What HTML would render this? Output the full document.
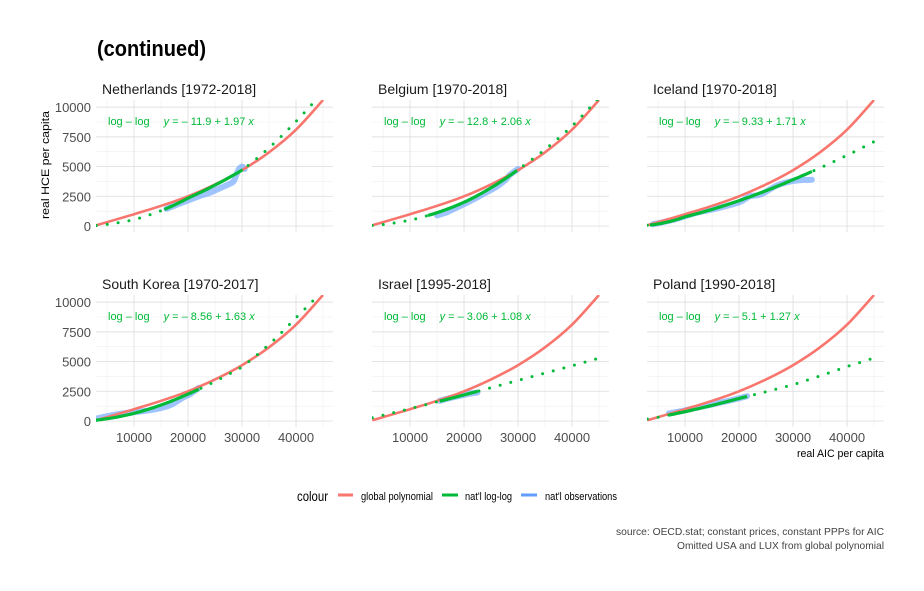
<!DOCTYPE html>
<html><head><meta charset="utf-8">
<style>
body{margin:0;background:#fff;}
svg{display:block;font-family:"Liberation Sans Narrow","Liberation Sans",sans-serif;}
</style></head>
<body>
<svg id="chart" width="924" height="591" viewBox="0 0 924 591" xmlns="http://www.w3.org/2000/svg">
<text x="97" y="56" font-size="22" font-weight="bold" fill="#000" textLength="109" lengthAdjust="spacingAndGlyphs">(continued)</text>
<g id="panels"></g>
<text transform="translate(49,165) rotate(-90)" text-anchor="middle" font-size="11" fill="#000" textLength="108" lengthAdjust="spacingAndGlyphs">real HCE per capita</text>
<text x="884" y="457" text-anchor="end" font-size="11" fill="#000" textLength="87" lengthAdjust="spacingAndGlyphs">real AIC per capita</text>
<g>
<text x="297" y="501" font-size="14" fill="#000" textLength="31" lengthAdjust="spacingAndGlyphs">colour</text>
<line x1="338" y1="495" x2="353" y2="495" stroke="#F8766D" stroke-width="3"/>
<text x="361" y="500" font-size="11" fill="#000" textLength="72" lengthAdjust="spacingAndGlyphs">global polynomial</text>
<line x1="442" y1="495" x2="458" y2="495" stroke="#00BA38" stroke-width="3"/>
<text x="465" y="500" font-size="11" fill="#000" textLength="47" lengthAdjust="spacingAndGlyphs">nat'l log-log</text>
<line x1="521" y1="495" x2="537" y2="495" stroke="#619CFF" stroke-width="3"/>
<text x="545" y="500" font-size="11" fill="#000" textLength="72" lengthAdjust="spacingAndGlyphs">nat'l observations</text>
</g>
<text x="884" y="535" text-anchor="end" font-size="10.5" fill="#444" textLength="268" lengthAdjust="spacingAndGlyphs">source: OECD.stat; constant prices, constant PPPs for AIC</text>
<text x="884" y="549" text-anchor="end" font-size="10.5" fill="#444" textLength="207" lengthAdjust="spacingAndGlyphs">Omitted USA and LUX from global polynomial</text>
</svg>
<script>
const countries = ["Netherlands [1972-2018]","Belgium [1970-2018]","Iceland [1970-2018]","South Korea [1970-2017]","Israel [1995-2018]","Poland [1990-2018]"];
const intercepts = [-11.9,-12.8,-9.33,-8.56,-3.06,-5.1];
const slopes = [1.97,2.06,1.71,1.63,1.08,1.27];
const loglogX = [3000,10000,20000,30000,40000,45000];
const loglogNL = [50,550,2350,4700,8800,11300];
const loglogBE = [50,500,2000,4750,8400,10800];
const loglogIS = [60,780,2130,3900,5950,7100];
const loglogKR = [80,650,2270,4550,8700,11000];
const loglogIL = [285,1040,2200,3420,4650,5290];
const loglogPL = [170,790,1900,3050,4580,5300];
const loglogY = [loglogNL,loglogBE,loglogIS,loglogKR,loglogIL,loglogPL];
const fitStart = [15600,13300,3500,3000,15500,7000];
const fitEnd = [30300,30000,33500,22000,22500,21500];
const polyX = [3000,10000,15000,20000,25000,30000,35000,40000,45000];
const polyY = [60,1000,1700,2500,3500,4700,6200,8100,10600];
const obsX = [
 [16000,18000,20000,22000,24000,26000,27500,28500,29300,30000,30500],
 [15000,17000,20000,22000,24000,26000,27500,28500,30000],
 [4000,8000,12000,16000,20000,22000,24000,27000,30000,33500],
 [3000,6000,9000,12000,15000,17000,19000,20500,22000],
 [15500,17000,19000,21000,22500],
 [7000,9000,11000,13000,15000,17000,19000,21500]
];
const obsY = [
 [1450,1800,2150,2500,2800,3200,3500,3800,4700,5000,4800],
 [900,1200,1850,2300,2800,3300,3800,4300,4800],
 [150,550,1100,1500,2000,2500,2650,3400,3800,3900],
 [200,500,700,850,1100,1400,1950,2300,2800],
 [1700,1900,2100,2300,2400],
 [650,800,1000,1200,1400,1600,1800,2100]
];
const xTicks = [10000,20000,30000,40000];
const xTickLabels = ["10000","20000","30000","40000"];
const yTicks = [0,2500,5000,7500,10000];
const yTickLabels = ["0","2500","5000","7500","10000"];

const NS="http://www.w3.org/2000/svg";
const root=document.getElementById('panels');
const XMIN=2950,XMAX=46850,YMIN=-500,YMAX=10600;
const PW=237,PH=132;
const colX=[96,372,647],rowY=[100,295];
function mk(tag,attrs,parent){const e=document.createElementNS(NS,tag);for(const k in attrs)e.setAttribute(k,attrs[k]);parent.appendChild(e);return e;}
function pathD(pts){return pts.map((p,i)=>(i?'L':'M')+p[0].toFixed(1)+','+p[1].toFixed(1)).join('');}
function smoothD(p){let d='M'+p[0][0].toFixed(1)+','+p[0][1].toFixed(1);
 for(let i=0;i<p.length-1;i++){const p0=p[i-1]||p[i],p1=p[i],p2=p[i+1],p3=p[i+2]||p2;
  const c1=[p1[0]+(p2[0]-p0[0])/6,p1[1]+(p2[1]-p0[1])/6],c2=[p2[0]-(p3[0]-p1[0])/6,p2[1]-(p3[1]-p1[1])/6];
  d+='C'+c1.map(v=>v.toFixed(1)).join(',')+' '+c2.map(v=>v.toFixed(1)).join(',')+' '+p2[0].toFixed(1)+','+p2[1].toFixed(1);}
 return d;}
function interpLogLog(xs,ys,x){
 let k=0;while(k<xs.length-2&&x>xs[k+1])k++;
 const t=(Math.log(x)-Math.log(xs[k]))/(Math.log(xs[k+1])-Math.log(xs[k]));
 return Math.exp(Math.log(ys[k])+t*(Math.log(ys[k+1])-Math.log(ys[k])));}
countries.forEach((name,i)=>{
 const c=i%3,r=Math.floor(i/3);
 const L=colX[c],T=rowY[r];
 const sx=v=>L+(v-XMIN)/(XMAX-XMIN)*PW;
 const sy=v=>T+PH-(v-YMIN)/(YMAX-YMIN)*PH;
 const g=mk('g',{},root);
 
 
 const clipId='clip'+i;
 const cp=mk('clipPath',{id:clipId},g);mk('rect',{x:L,y:T,width:PW,height:PH},cp);
 [5000,15000,25000,35000,45000].forEach(v=>mk('line',{x1:sx(v),x2:sx(v),y1:T,y2:T+PH,stroke:'#efefef','stroke-width':0.6},g));
 [1250,3750,6250,8750].forEach(v=>mk('line',{x1:L,x2:L+PW,y1:sy(v),y2:sy(v),stroke:'#efefef','stroke-width':0.6},g));
 xTicks.forEach(v=>mk('line',{x1:sx(v),x2:sx(v),y1:T,y2:T+PH,stroke:'#e0e0e0','stroke-width':0.9},g));
 yTicks.forEach(v=>mk('line',{x1:L,x2:L+PW,y1:sy(v),y2:sy(v),stroke:'#e0e0e0','stroke-width':0.9},g));
 const strip=mk('text',{x:L+6,y:T-6,'font-size':14,fill:'#1a1a1a'},g);strip.textContent=name;
 
 
 if(c===0){yTicks.forEach((v,k)=>{const t=mk('text',{x:L-5,y:sy(v)+5,'text-anchor':'end','font-size':13,fill:'#4d4d4d'},g);t.textContent=yTickLabels[k];
  
  });}
 if(r===1){xTicks.forEach((v,k)=>{const t=mk('text',{x:sx(v),y:T+PH+15,'text-anchor':'middle','font-size':13,fill:'#4d4d4d'},g);t.textContent=xTickLabels[k];
  
  });}
 const d=mk('g',{'clip-path':'url(#'+clipId+')'},g);
 const ob=mk('path',{d:smoothD(obsX[i].map((x,k)=>[sx(x),sy(obsY[i][k])])),fill:'none',stroke:'#619CFF','stroke-width':6,'stroke-opacity':0.6,'stroke-linejoin':'round','stroke-linecap':'round'},d);
 
 
 const pl=mk('path',{d:smoothD(polyX.map((x,k)=>[sx(x),sy(polyY[k])])),fill:'none',stroke:'#F8766D','stroke-width':2.6},d);
 
 
 const f=x=>interpLogLog(loglogX,loglogY[i],x);
 const dots=[];for(let x=3000;x<=45000;x+=250)dots.push([sx(x),sy(f(x))]);
 const dl=mk('path',{d:pathD(dots),fill:'none',stroke:'#00BA38','stroke-width':3,'stroke-dasharray':'0 11','stroke-linecap':'round'},d);
 
 
 const fit=[];for(let x=fitStart[i];x<=fitEnd[i];x+=250)fit.push([sx(x),sy(f(x))]);
 const fl=mk('path',{d:pathD(fit),fill:'none',stroke:'#00BA38','stroke-width':3.2},d);
 
 
 const a=mk('text',{x:L+12,y:T+25,'font-size':11,fill:'#00BA38'},g);
 
 
 const sgn=intercepts[i]<0?'\u2013 ':'';
 a.innerHTML='log \u2013 log<tspan dx="14" font-style="italic">y</tspan> = '+sgn+Math.abs(intercepts[i])+' + '+slopes[i]+' <tspan font-style="italic">x</tspan>';
});
</script>
</body></html>
